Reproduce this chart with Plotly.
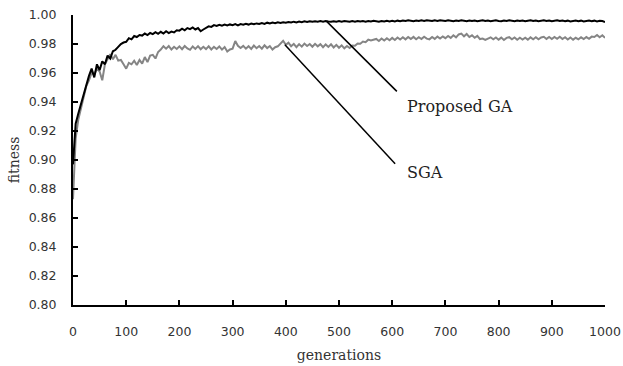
import plotly.graph_objects as go

generations = list(range(0, 1001, 5))

proposed_ga = [
    0.897, 0.925, 0.932, 0.939, 0.946, 0.953, 0.958, 0.963, 0.957, 0.966,
    0.962, 0.968, 0.966, 0.972, 0.970, 0.975, 0.976, 0.978, 0.980, 0.981,
    0.9815, 0.9840, 0.9832, 0.9855, 0.9848, 0.9862, 0.9858, 0.9872, 0.9862, 0.9876,
    0.9868, 0.9882, 0.9870, 0.9884, 0.9872, 0.9888, 0.9875, 0.9886, 0.9880, 0.9895,
    0.9892, 0.9906, 0.9894, 0.9910, 0.9902, 0.9914, 0.9900, 0.9910, 0.9888, 0.9900,
    0.9910, 0.9922, 0.9918, 0.9930, 0.9925, 0.9933, 0.9927, 0.9934, 0.9928, 0.9935,
    0.9930, 0.9937, 0.9929, 0.9938, 0.9933, 0.9940, 0.9934, 0.9941, 0.9936, 0.9942,
    0.9938, 0.9945, 0.9939, 0.9947, 0.9942, 0.9948, 0.9943, 0.9949, 0.9945, 0.9950,
    0.9947, 0.9952, 0.9948, 0.9954, 0.9949, 0.9955, 0.9951, 0.9956, 0.9952, 0.9957,
    0.9953, 0.9957, 0.9954, 0.9958, 0.9954, 0.9958, 0.9955, 0.9953, 0.9957, 0.9954,
    0.9958, 0.9954, 0.9958, 0.9955, 0.9953, 0.9958, 0.9954, 0.9959, 0.9955, 0.9958,
    0.9954, 0.9959, 0.9955, 0.9960, 0.9956, 0.9954, 0.9959, 0.9955, 0.9960, 0.9956,
    0.9960, 0.9956, 0.9961, 0.9957, 0.9962, 0.9958, 0.9963, 0.9959, 0.9957, 0.9962,
    0.9958, 0.9963, 0.9959, 0.9964, 0.9960, 0.9958, 0.9963, 0.9959, 0.9964, 0.9960,
    0.9958, 0.9963, 0.9959, 0.9957, 0.9962, 0.9958, 0.9963, 0.9959, 0.9957, 0.9962,
    0.9958, 0.9962, 0.9957, 0.9961, 0.9963, 0.9958, 0.9962, 0.9957, 0.9961, 0.9963,
    0.9959, 0.9957, 0.9962, 0.9958, 0.9963, 0.9959, 0.9957, 0.9962, 0.9958, 0.9962,
    0.9957, 0.9961, 0.9963, 0.9958, 0.9962, 0.9957, 0.9961, 0.9963, 0.9958, 0.9962,
    0.9957, 0.9961, 0.9963, 0.9958, 0.9962, 0.9957, 0.9961, 0.9956, 0.9960, 0.9962,
    0.9957, 0.9961, 0.9956, 0.9960, 0.9962, 0.9957, 0.9961, 0.9956, 0.9960, 0.9958,
    0.9952,
]

sga = [
    0.873, 0.915, 0.928, 0.935, 0.944, 0.951, 0.955, 0.960, 0.959, 0.963,
    0.961, 0.955, 0.966, 0.970, 0.973, 0.9695, 0.9725, 0.9685, 0.9690, 0.9660,
    0.9630, 0.9670, 0.9660, 0.9685, 0.9655, 0.9690, 0.9665, 0.9710, 0.9675, 0.9720,
    0.9725, 0.9700, 0.9745, 0.9762, 0.9785, 0.9768, 0.9786, 0.9762, 0.9781, 0.9766,
    0.9784, 0.9764, 0.9786, 0.9769, 0.9760, 0.9783, 0.9766, 0.9785, 0.9764, 0.9781,
    0.9765, 0.9784, 0.9762, 0.9780, 0.9766, 0.9783, 0.9761, 0.9779, 0.9748, 0.9762,
    0.9768, 0.9820, 0.9788, 0.9772, 0.9787, 0.9768, 0.9785, 0.9766, 0.9789, 0.9771,
    0.9786, 0.9768, 0.9791, 0.9772, 0.9786, 0.9762, 0.9778, 0.9784, 0.9806, 0.9822,
    0.9795, 0.9809, 0.9784, 0.9801, 0.9778, 0.9799, 0.9782, 0.9803, 0.9786, 0.9800,
    0.9781, 0.9801, 0.9784, 0.9799, 0.9778, 0.9797, 0.9780, 0.9798, 0.9776, 0.9794,
    0.9774, 0.9791, 0.9770, 0.9786, 0.9772, 0.9789, 0.9788, 0.9804, 0.9802, 0.9817,
    0.9813, 0.9830, 0.9824, 0.9827, 0.9835, 0.9821, 0.9838, 0.9824, 0.9840, 0.9826,
    0.9842, 0.9828, 0.9845, 0.9831, 0.9846, 0.9832, 0.9848, 0.9835, 0.9849, 0.9833,
    0.9847, 0.9834, 0.9850, 0.9837, 0.9832, 0.9848, 0.9835, 0.9851, 0.9838, 0.9852,
    0.9840, 0.9855, 0.9842, 0.9860, 0.9846, 0.9866, 0.9872, 0.9853, 0.9869, 0.9848,
    0.9860, 0.9843, 0.9856, 0.9834, 0.9837, 0.9828, 0.9839, 0.9846, 0.9832, 0.9845,
    0.9830, 0.9844, 0.9828, 0.9842, 0.9847, 0.9832, 0.9845, 0.9829, 0.9843, 0.9831,
    0.9844, 0.9830, 0.9846, 0.9833, 0.9847, 0.9832, 0.9845, 0.9850, 0.9835, 0.9848,
    0.9834, 0.9849, 0.9836, 0.9850, 0.9834, 0.9847, 0.9831, 0.9845, 0.9830, 0.9843,
    0.9832, 0.9846, 0.9834, 0.9848, 0.9836, 0.9851, 0.9848, 0.9862, 0.9846, 0.9860,
    0.9842,
]

series_names = ["Proposed GA", "SGA"]
x_ticks = list(range(0, 1001, 100))
y_ticks = [0.80, 0.82, 0.84, 0.86, 0.88, 0.90, 0.92, 0.94, 0.96, 0.98, 1.00]

# callout lines: (from point on curve) -> (near label)
callouts = [
    dict(name="Proposed GA", x0=476.8, y0=0.99559, x1=608.7, y1=0.94731, tx=624.3, ty=0.93697),
    dict(name="SGA", x0=398.3, y0=0.97952, x1=605.5, y1=0.89745, tx=624.3, ty=0.89124),
]

fig = go.Figure()
fig.add_trace(go.Scatter(x=generations, y=sga, mode="lines", name=series_names[1],
                         line=dict(color="#858585", width=2), showlegend=False))
fig.add_trace(go.Scatter(x=generations, y=proposed_ga, mode="lines", name=series_names[0],
                         line=dict(color="#000000", width=2), showlegend=False))

serif = "DejaVu Serif"
for c in callouts:
    fig.add_shape(type="line", xref="x", yref="y", x0=c["x0"], y0=c["y0"], x1=c["x1"], y1=c["y1"],
                  line=dict(color="black", width=1.5))
    fig.add_annotation(x=c["tx"], y=c["ty"], xref="x", yref="y", text=c["name"], showarrow=False,
                       xanchor="left", yanchor="middle",
                       font=dict(family=serif, size=16, color="#222"))

fig.update_layout(
    width=623, height=366,
    margin=dict(l=73, r=18, t=15, b=61),
    paper_bgcolor="white", plot_bgcolor="white",
    font=dict(family="DejaVu Sans", size=12.5, color="#333"),
    xaxis=dict(range=[0, 1000], tickvals=x_ticks, ticks="inside", ticklen=5, tickwidth=1.5,
               tickcolor="black", showline=True, linecolor="black", linewidth=2,
               showgrid=False, zeroline=False, ticklabelstandoff=14, automargin=False,
               title=dict(text="generations", font=dict(family=serif, size=14, color="#333"), standoff=12)),
    yaxis=dict(range=[0.80, 1.00], tickvals=y_ticks, tickformat=".2f", ticks="inside", ticklen=5,
               tickwidth=1.5, tickcolor="black", showline=True, linecolor="black", linewidth=2,
               showgrid=False, zeroline=False, ticklabelstandoff=12, automargin=False,
               title=dict(text="fitness", font=dict(family=serif, size=14, color="#333"), standoff=6)),
)

fig.write_html("out.html")
